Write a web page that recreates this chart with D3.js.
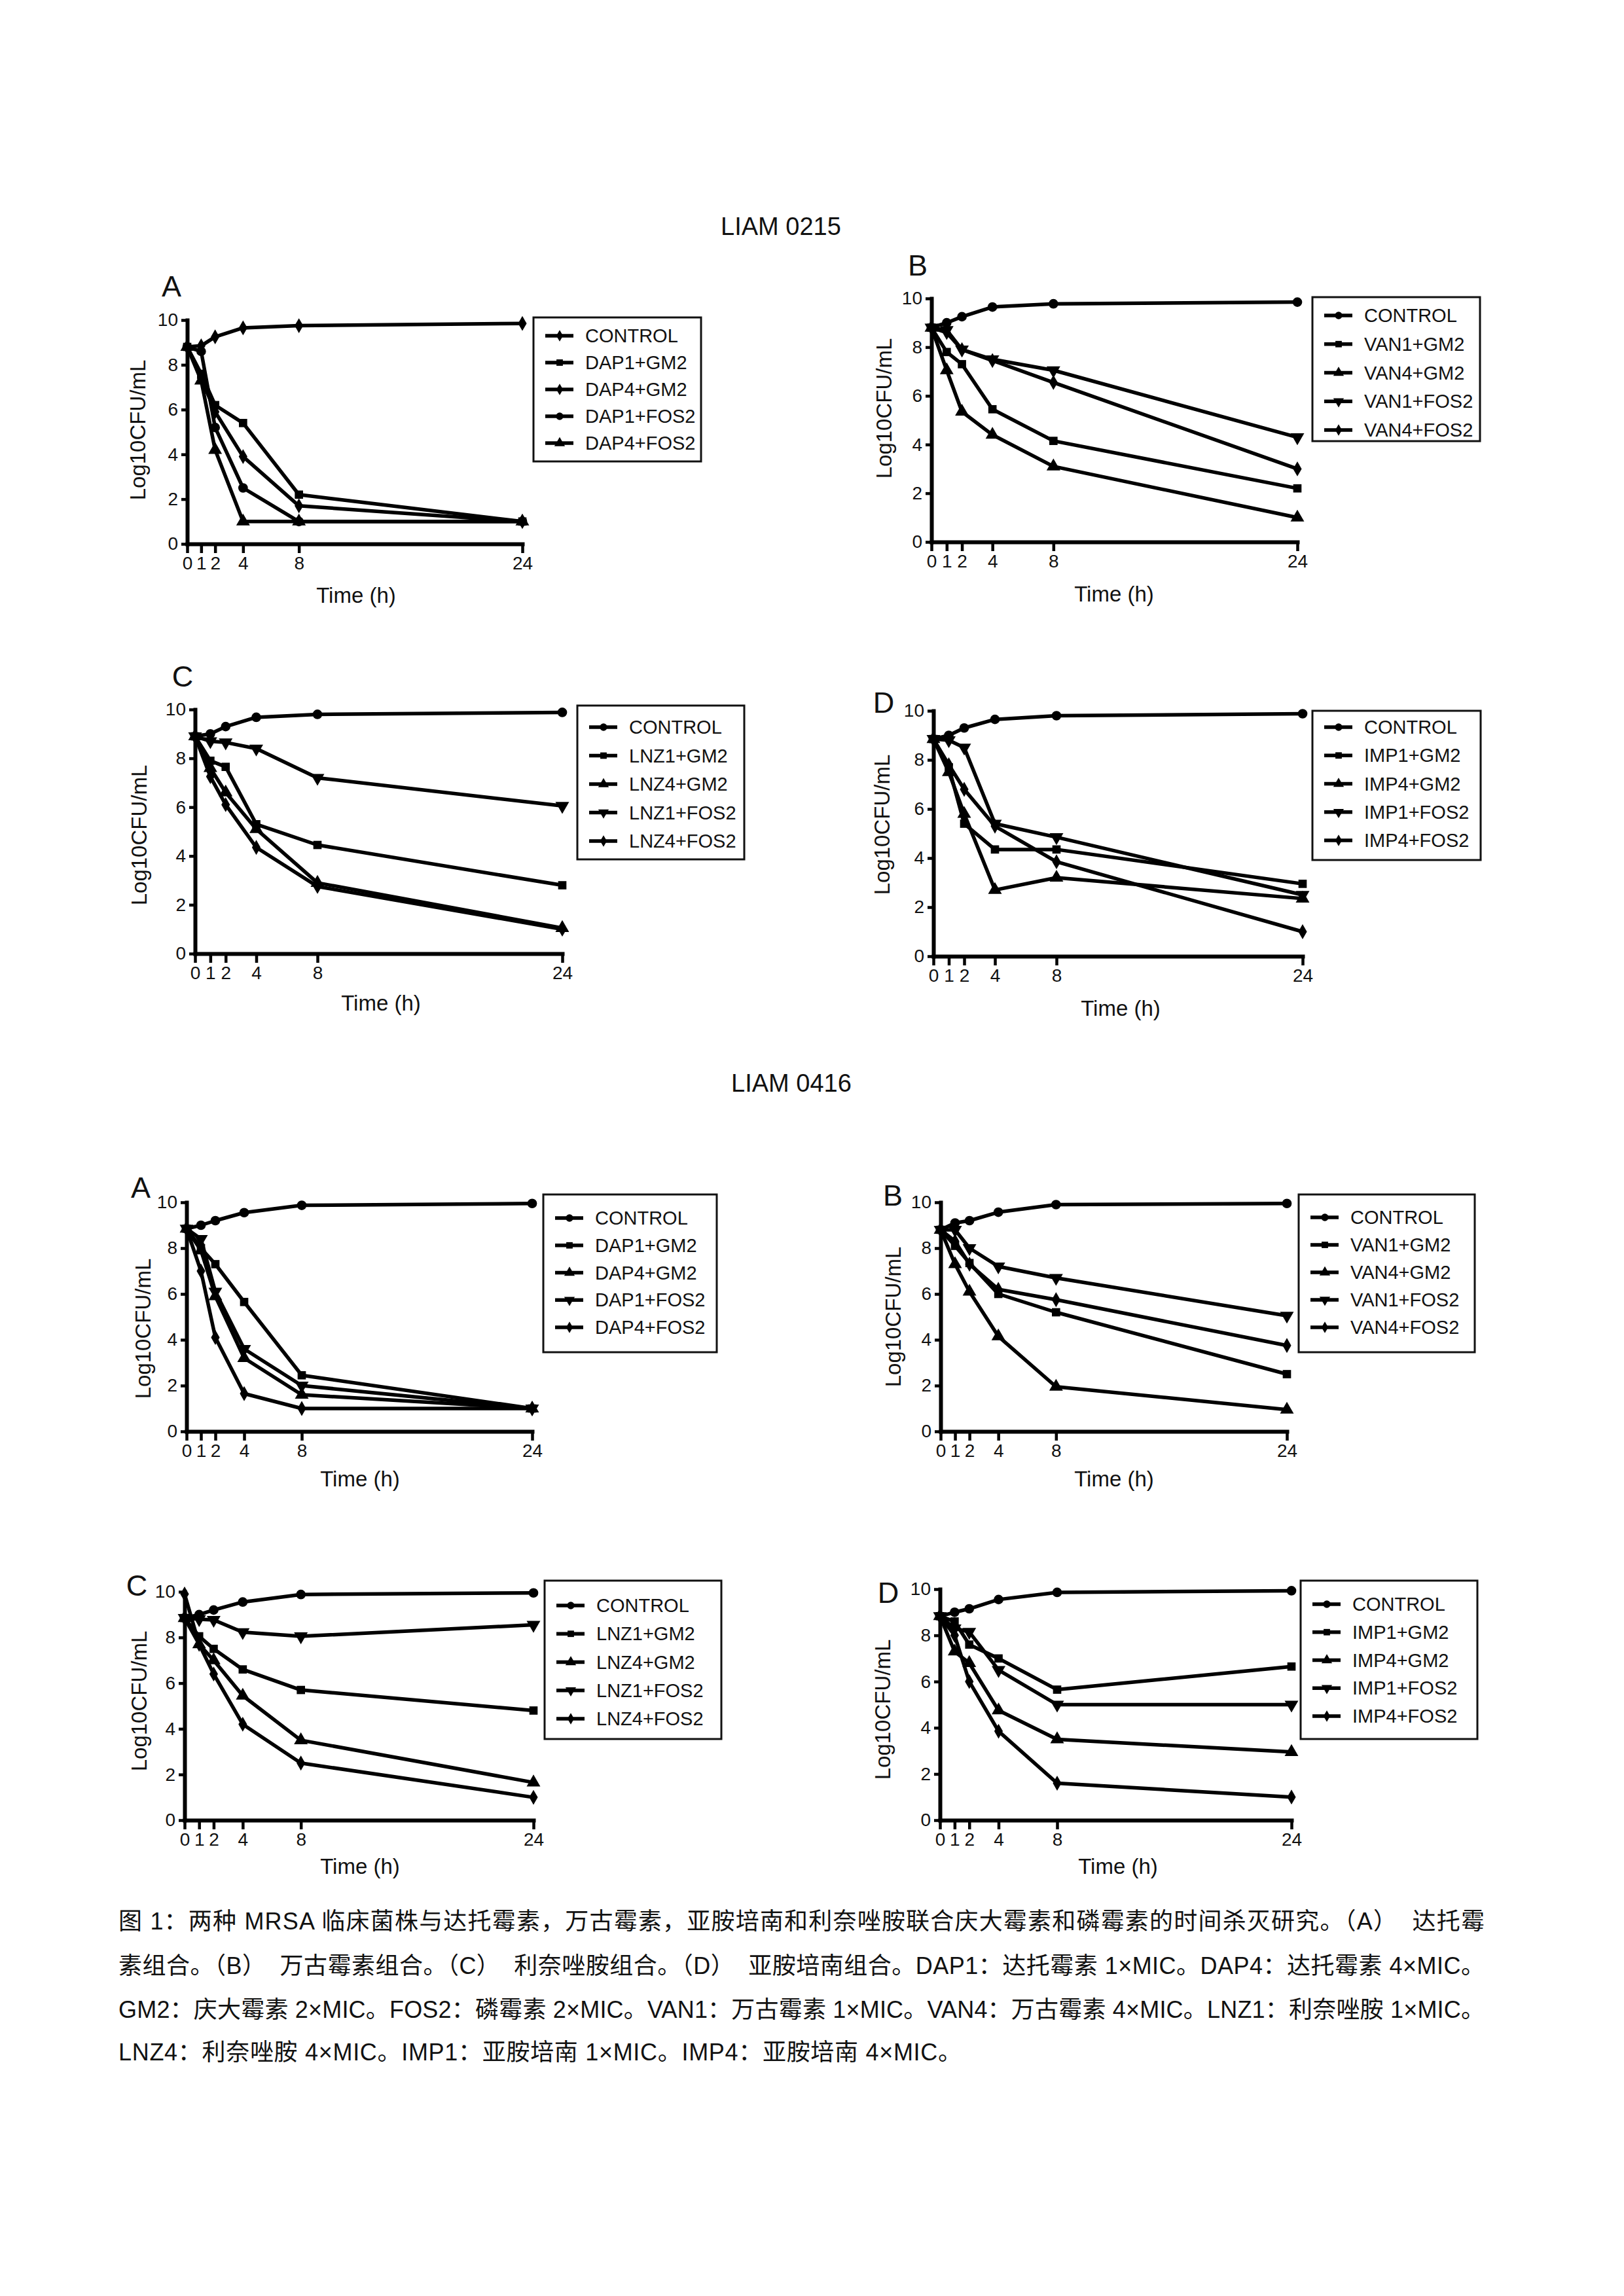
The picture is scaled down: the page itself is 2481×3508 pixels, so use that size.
<!DOCTYPE html>
<html><head><meta charset="utf-8">
<script src="https://cdn.jsdelivr.net/npm/d3@7"></script>
<style>html,body{margin:0;padding:0;background:#fff}</style>
</head><body><svg id="fig"></svg><script>
// ---------- DATA ----------
const times = [0, 1, 2, 4, 8, 24];
const xTicks = [0, 1, 2, 4, 8, 24];
const yTicks = [0, 2, 4, 6, 8, 10];
const strainTitles = ["LIAM 0215", "LIAM 0416"];
const panelLetters = ["A", "B", "C", "D", "A", "B", "C", "D"];

const names_DAP = ["CONTROL", "DAP1+GM2", "DAP4+GM2", "DAP1+FOS2", "DAP4+FOS2"];
const names_VAN = ["CONTROL", "VAN1+GM2", "VAN4+GM2", "VAN1+FOS2", "VAN4+FOS2"];
const names_LNZ = ["CONTROL", "LNZ1+GM2", "LNZ4+GM2", "LNZ1+FOS2", "LNZ4+FOS2"];
const names_IMP = ["CONTROL", "IMP1+GM2", "IMP4+GM2", "IMP1+FOS2", "IMP4+FOS2"];

// LIAM 0215
const values_0215_A = [
  [8.8, 8.85, 9.25, 9.65, 9.75, 9.85],
  [8.8, 7.6, 6.2, 5.4, 2.2, 1.0],
  [8.8, 7.4, 5.9, 3.9, 1.7, 1.0],
  [8.8, 8.6, 5.2, 2.5, 1.0, 1.0],
  [8.8, 7.3, 4.2, 1.0, 1.0, 1.0]
];
const values_0215_B = [
  [8.8, 9.0, 9.25, 9.65, 9.78, 9.85],
  [8.8, 7.8, 7.3, 5.45, 4.15, 2.2],
  [8.8, 7.05, 5.35, 4.4, 3.1, 1.0],
  [8.8, 8.7, 7.9, 7.5, 7.05, 4.3],
  [8.8, 8.6, 7.9, 7.45, 6.55, 3.0]
];
const values_0215_C = [
  [8.9, 9.0, 9.3, 9.68, 9.8, 9.88],
  [8.9, 7.9, 7.65, 5.3, 4.45, 2.8],
  [8.9, 7.6, 6.6, 5.1, 2.9, 1.05],
  [8.9, 8.7, 8.65, 8.4, 7.2, 6.05],
  [8.9, 7.25, 6.1, 4.35, 2.75, 1.0]
];
const values_0215_D = [
  [8.85, 9.0, 9.3, 9.65, 9.8, 9.88],
  [8.85, 7.7, 5.4, 4.35, 4.35, 2.95],
  [8.85, 7.5, 5.8, 2.7, 3.2, 2.35],
  [8.85, 8.8, 8.5, 5.4, 4.85, 2.5],
  [8.85, 7.8, 6.8, 5.3, 3.85, 1.0]
];
// LIAM 0416
const values_0416_A = [
  [8.85, 9.0, 9.2, 9.55, 9.87, 9.95],
  [8.85, 8.0, 7.3, 5.65, 2.45, 1.0],
  [8.85, 7.9, 5.9, 3.2, 1.6, 1.0],
  [8.85, 8.4, 6.1, 3.6, 2.0, 1.0],
  [8.85, 7.0, 4.1, 1.65, 1.0, 1.0]
];
const values_0416_B = [
  [8.8, 9.1, 9.2, 9.57, 9.9, 9.95],
  [8.8, 8.1, 7.35, 6.0, 5.2, 2.5],
  [8.8, 7.3, 6.1, 4.15, 1.95, 0.95],
  [8.8, 8.8, 8.0, 7.2, 6.7, 5.05],
  [8.8, 8.3, 7.3, 6.2, 5.75, 3.75]
];
const values_0416_C = [
  [8.85, 9.0, 9.2, 9.55, 9.88, 9.95],
  [8.85, 8.05, 7.5, 6.6, 5.7, 4.8],
  [8.85, 7.7, 7.0, 5.45, 3.5, 1.65],
  [8.85, 8.8, 8.77, 8.23, 8.05, 8.55],
  [9.9, 7.7, 6.4, 4.2, 2.5, 1.0]
];
const values_0416_D = [
  [8.83, 9.0, 9.15, 9.55, 9.86, 9.93],
  [8.83, 8.6, 7.6, 7.0, 5.65, 6.65],
  [8.83, 7.3, 6.8, 4.75, 3.5, 2.95],
  [8.83, 8.3, 8.15, 6.5, 5.0, 5.0],
  [8.83, 8.0, 6.0, 3.85, 1.6, 1.0]
];

const captionLines = [
  "图 1：两种 MRSA 临床菌株与达托霉素，万古霉素，亚胺培南和利奈唑胺联合庆大霉素和磷霉素的时间杀灭研究。（A）  达托霉",
  "素组合。（B）  万古霉素组合。（C）  利奈唑胺组合。（D）  亚胺培南组合。DAP1：达托霉素 1×MIC。DAP4：达托霉素 4×MIC。",
  "GM2：庆大霉素 2×MIC。FOS2：磷霉素 2×MIC。VAN1：万古霉素 1×MIC。VAN4：万古霉素 4×MIC。LNZ1：利奈唑胺 1×MIC。",
  "LNZ4：利奈唑胺 4×MIC。IMP1：亚胺培南 1×MIC。IMP4：亚胺培南 4×MIC。"
];

// ---------- LAYOUT (positions only) ----------
const markersDefault = ["circle", "square", "triangle", "triangleDown", "diamond"];
const markersTopA = ["diamond", "square", "diamond", "circle", "triangle"];

const panels = [
  {names: names_DAP, values: values_0215_A, markers: markersTopA,
   x0: 286, x1: 798, yt: 489, yb: 831, box: [815, 485, 1071, 705], row0: 513, step: 41, letter: [262, 437], time: [544, 909], ylab: [210, 657]},
  {names: names_VAN, values: values_0215_B, markers: markersDefault,
   x0: 1423, x1: 1982, yt: 456, yb: 828, box: [2005, 454, 2261, 674], row0: 482, step: 43.75, letter: [1402, 405], time: [1702, 907], ylab: [1350, 624]},
  {names: names_LNZ, values: values_0215_C, markers: markersDefault,
   x0: 298, x1: 859, yt: 1084, yb: 1457, box: [882, 1078, 1137, 1313], row0: 1111, step: 43.5, letter: [279, 1033], time: [582, 1532], ylab: [212, 1276]},
  {names: names_IMP, values: values_0215_D, markers: markersDefault,
   x0: 1426, x1: 1990, yt: 1086, yb: 1461, box: [2005, 1086, 2262, 1314], row0: 1111, step: 43.25, letter: [1350, 1073], time: [1712, 1540], ylab: [1347, 1260]},
  {names: names_DAP, values: values_0416_A, markers: markersDefault,
   x0: 285, x1: 813, yt: 1837, yb: 2187, box: [830, 1825, 1095, 2066], row0: 1861, step: 41.75, letter: [215, 1814], time: [550, 2259], ylab: [218, 2030]},
  {names: names_VAN, values: values_0416_B, markers: markersDefault,
   x0: 1437, x1: 1966, yt: 1837, yb: 2187, box: [1984, 1825, 2253, 2066], row0: 1860, step: 42, letter: [1364, 1826], time: [1702, 2259], ylab: [1364, 2012]},
  {names: names_LNZ, values: values_0416_C, markers: markersDefault,
   x0: 282, x1: 815, yt: 2432, yb: 2781, box: [832, 2415, 1102, 2657], row0: 2453, step: 43.25, letter: [209, 2422], time: [550, 2851], ylab: [212, 2599]},
  {names: names_IMP, values: values_0416_D, markers: markersDefault,
   x0: 1436, x1: 1973, yt: 2428, yb: 2781, box: [1987, 2415, 2257, 2657], row0: 2451, step: 42.75, letter: [1357, 2433], time: [1708, 2851], ylab: [1348, 2612]}
];
const titlePos = [[1101, 346], [1117, 1655]];

// ---------- DRAW ----------
const W = 2481, H = 3508;
const FONT = "'Liberation Sans', Arial, Helvetica, sans-serif";
const svg = d3.select("#fig").attr("width", W).attr("height", H).attr("viewBox", `0 0 ${W} ${H}`);
svg.append("rect").attr("width", W).attr("height", H).attr("fill", "#fff");

const symbolType = {circle: d3.symbolCircle, square: d3.symbolSquare, triangle: d3.symbolTriangle,
                    triangleDown: d3.symbolTriangle, diamond: d3.symbolDiamond};
const symbolSize = {circle: 170, square: 160, triangle: 190, triangleDown: 190, diamond: 150};

function marker(sel, kind, scale) {
  sel.attr("d", d3.symbol().type(symbolType[kind]).size(symbolSize[kind] * scale)());
  return sel;
}

strainTitles.forEach((t, i) => {
  svg.append("text").attr("x", titlePos[i][0]).attr("y", titlePos[i][1])
    .attr("dominant-baseline", "central").attr("font-family", FONT).attr("font-size", 38)
    .attr("fill", "#111").text(t);
});

panels.forEach((p, pi) => {
  const g = svg.append("g");
  const x = d3.scaleLinear().domain([0, 24]).range([p.x0, p.x1]);
  const y = d3.scaleLinear().domain([0, 10]).range([p.yb, p.yt]);

  // axes
  const xa = g.append("g").attr("transform", `translate(0,${p.yb})`)
    .call(d3.axisBottom(x).tickValues(xTicks).tickSize(14).tickSizeOuter(0).tickPadding(5).tickFormat(d3.format("d")));
  const ya = g.append("g").attr("transform", `translate(${p.x0},0)`)
    .call(d3.axisLeft(y).tickValues(yTicks).tickSize(9).tickSizeOuter(0).tickPadding(5).tickFormat(d3.format("d")));
  [xa, ya].forEach(a => {
    a.select(".domain").attr("stroke", "#000").attr("stroke-width", 6).attr("stroke-linecap", "square");
    a.selectAll(".tick line").attr("stroke", "#000").attr("stroke-width", 4.5);
    a.selectAll(".tick text").attr("font-family", FONT).attr("font-size", 28).attr("fill", "#111");
  });

  // panel letter
  g.append("text").attr("x", p.letter[0]).attr("y", p.letter[1]).attr("text-anchor", "middle")
    .attr("dominant-baseline", "central").attr("font-family", FONT).attr("font-size", 45)
    .attr("fill", "#111").text(panelLetters[pi]);

  // axis titles
  g.append("text").attr("x", p.time[0]).attr("y", p.time[1]).attr("text-anchor", "middle")
    .attr("dominant-baseline", "central").attr("font-family", FONT).attr("font-size", 33)
    .attr("fill", "#111").text("Time (h)");
  g.append("text").attr("transform", `translate(${p.ylab[0]},${p.ylab[1]}) rotate(-90)`)
    .attr("text-anchor", "middle").attr("dominant-baseline", "central")
    .attr("font-family", FONT).attr("font-size", 33).attr("fill", "#111").text("Log10CFU/mL");

  // series lines
  const line = d3.line().x((d, i) => x(times[i])).y(d => y(d));
  p.values.forEach((vals) => {
    g.append("path").datum(vals).attr("d", line).attr("fill", "none")
      .attr("stroke", "#000").attr("stroke-width", 5.5).attr("stroke-linejoin", "round");
  });
  // markers
  p.values.forEach((vals, si) => {
    const kind = p.markers[si];
    g.selectAll(null).data(vals).join("path")
      .call(s => marker(s, kind, 1))
      .attr("fill", "#000")
      .attr("transform", (d, i) => `translate(${x(times[i])},${y(d)})${kind === "triangleDown" ? " rotate(180)" : ""}`);
  });

  // legend
  const [bx0, by0, bx1, by1] = p.box;
  const lg = g.append("g");
  lg.append("rect").attr("x", bx0).attr("y", by0).attr("width", bx1 - bx0).attr("height", by1 - by0)
    .attr("fill", "#fff").attr("stroke", "#111").attr("stroke-width", 3);
  p.names.forEach((nm, si) => {
    const ry = p.row0 + si * p.step;
    lg.append("line").attr("x1", bx0 + 18).attr("x2", bx0 + 61).attr("y1", ry).attr("y2", ry)
      .attr("stroke", "#000").attr("stroke-width", 5.5);
    const kind = p.markers[si];
    lg.append("path").call(s => marker(s, kind, 0.6)).attr("fill", "#000")
      .attr("transform", `translate(${bx0 + 40},${ry})${kind === "triangleDown" ? " rotate(180)" : ""}`);
    lg.append("text").attr("x", bx0 + 79).attr("y", ry).attr("dominant-baseline", "central")
      .attr("font-family", FONT).attr("font-size", 29).attr("fill", "#111").text(nm);
  });
});

// caption
const capY = [2935, 3003, 3070, 3135];
captionLines.forEach((ln, i) => {
  const t = svg.append("text").attr("x", 181).attr("y", capY[i]).attr("dominant-baseline", "central")
    .attr("font-family", "'Liberation Sans', Arial, 'Noto Sans CJK SC', sans-serif")
    .attr("font-size", 36).attr("fill", "#111").style("white-space", "pre").text(ln);
  if (i < 3) t.attr("textLength", 2087).attr("lengthAdjust", "spacing");
  else t.attr("textLength", 1288).attr("lengthAdjust", "spacing");
});
</script></body></html>
